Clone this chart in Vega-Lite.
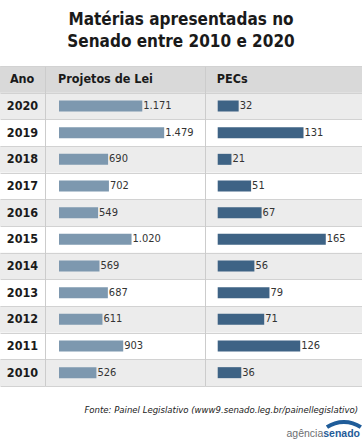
{
  "$schema": "https://vega.github.io/schema/vega-lite/v6.json",
  "padding": {"top": 11, "left": 0, "right": 0, "bottom": 0},
  "autosize": {"type": "pad"},
  "background": "white",
  "config": {
    "view": {"stroke": null},
    "font": "DejaVu Sans Condensed, Roboto, sans-serif",
    "locale": {"number": {"decimal": ",", "thousands": ".", "grouping": [3], "currency": ["R$ ", ""]}}
  },
  "datasets": {
    "rows": [
      {"ano": "2020", "pl": 1171, "pec": 32},
      {"ano": "2019", "pl": 1479, "pec": 131},
      {"ano": "2018", "pl": 690, "pec": 21},
      {"ano": "2017", "pl": 702, "pec": 51},
      {"ano": "2016", "pl": 549, "pec": 67},
      {"ano": "2015", "pl": 1020, "pec": 165},
      {"ano": "2014", "pl": 569, "pec": 56},
      {"ano": "2013", "pl": 687, "pec": 79},
      {"ano": "2012", "pl": 611, "pec": 71},
      {"ano": "2011", "pl": 903, "pec": 126},
      {"ano": "2010", "pl": 526, "pec": 36}
    ]
  },
  "title": {
    "text": ["Matérias apresentadas no", "Senado entre 2010 e 2020"],
    "font": "DejaVu Sans Condensed, Roboto, sans-serif",
    "fontSize": 17,
    "fontWeight": "bold",
    "lineHeight": 21.5,
    "color": "#1a1a1a",
    "anchor": "middle",
    "offset": 15.5
  },
  "spacing": 0,
  "vconcat": [
    {
      "spacing": 0,
      "hconcat": [
        {
          "width": 45,
          "height": 320,
          "data": {"name": "rows"},
          "encoding": {
            "y": {
              "field": "ano", "type": "ordinal",
              "scale": {"domain": ["Ano", "2020", "2019", "2018", "2017", "2016", "2015", "2014", "2013", "2012", "2011", "2010"], "paddingInner": 0, "paddingOuter": 0},
              "axis": {"title": null, "labels": false, "ticks": false, "domain": false, "grid": true, "gridColor": "#d2d2d2", "tickBand": "extent", "zindex": 1}
            }
          },
          "layer": [
            {"mark": {"type": "rect"}, "encoding": {"fill": {"condition": {"test": "toNumber(datum.ano) % 2 === 0", "value": "#ececec"}, "value": "#ffffff"}}},
            {"data": {"values": [{"ano": "Ano"}]}, "mark": {"type": "rect", "fill": "#d9d9d9"}},
            {
              "mark": {"type": "text", "fontWeight": "bold", "fontSize": 12.5, "color": "#1a1a1a", "align": "center", "baseline": "middle"},
              "encoding": {
                "x": {"datum": 0.5, "type": "quantitative", "scale": {"domain": [0, 1]}, "axis": null},
                "text": {"field": "ano"}
              }
            },
            {
              "data": {"values": [{"ano": "Ano", "t": "Ano"}]},
              "mark": {"type": "text", "fontWeight": "bold", "fontSize": 12.5, "color": "#1a1a1a", "align": "left", "baseline": "middle"},
              "encoding": {
                "x": {"datum": 0.22, "type": "quantitative"},
                "text": {"field": "t"}
              }
            }
          ]
        },
        {
          "width": 160,
          "height": 320,
          "data": {"name": "rows"},
          "encoding": {
            "y": {
              "field": "ano", "type": "ordinal",
              "scale": {"domain": ["Ano", "2020", "2019", "2018", "2017", "2016", "2015", "2014", "2013", "2012", "2011", "2010"], "paddingInner": 0, "paddingOuter": 0},
              "axis": {"title": null, "labels": false, "ticks": false, "domain": true, "domainColor": "#cccccc", "grid": true, "gridColor": "#d2d2d2", "tickBand": "extent", "zindex": 1}
            }
          },
          "layer": [
            {"mark": {"type": "rect"}, "encoding": {"fill": {"condition": {"test": "toNumber(datum.ano) % 2 === 0", "value": "#ececec"}, "value": "#ffffff"}}},
            {"data": {"values": [{"ano": "Ano"}]}, "mark": {"type": "rect", "fill": "#d9d9d9"}},
            {
              "mark": {"type": "bar", "height": 11, "color": "#7d98af"},
              "encoding": {
                "x": {"field": "pl", "type": "quantitative", "scale": {"domain": [-197, 2053], "nice": false, "zero": false}, "axis": null}
              }
            },
            {
              "mark": {"type": "text", "fontSize": 11, "color": "#333333", "align": "left", "baseline": "middle", "dx": 1},
              "encoding": {
                "x": {"field": "pl", "type": "quantitative"},
                "text": {"field": "pl", "type": "quantitative", "format": ",d"}
              }
            },
            {
              "data": {"values": [{"ano": "Ano", "t": "Projetos de Lei"}]},
              "mark": {"type": "text", "fontWeight": "bold", "fontSize": 12.5, "color": "#1a1a1a", "align": "left", "baseline": "middle", "dx": -1},
              "encoding": {
                "x": {"datum": 0, "type": "quantitative"},
                "text": {"field": "t"}
              }
            }
          ]
        },
        {
          "width": 157,
          "height": 320,
          "data": {"name": "rows"},
          "encoding": {
            "y": {
              "field": "ano", "type": "ordinal",
              "scale": {"domain": ["Ano", "2020", "2019", "2018", "2017", "2016", "2015", "2014", "2013", "2012", "2011", "2010"], "paddingInner": 0, "paddingOuter": 0},
              "axis": {"title": null, "labels": false, "ticks": false, "domain": true, "domainColor": "#cccccc", "grid": true, "gridColor": "#d2d2d2", "tickBand": "extent", "zindex": 1}
            }
          },
          "layer": [
            {"mark": {"type": "rect"}, "encoding": {"fill": {"condition": {"test": "toNumber(datum.ano) % 2 === 0", "value": "#ececec"}, "value": "#ffffff"}}},
            {"data": {"values": [{"ano": "Ano"}]}, "mark": {"type": "rect", "fill": "#d9d9d9"}},
            {
              "mark": {"type": "bar", "height": 11, "color": "#3e6385"},
              "encoding": {
                "x": {"field": "pec", "type": "quantitative", "scale": {"domain": [-19.4, 220.3], "nice": false, "zero": false}, "axis": null}
              }
            },
            {
              "mark": {"type": "text", "fontSize": 11, "color": "#333333", "align": "left", "baseline": "middle", "dx": 1},
              "encoding": {
                "x": {"field": "pec", "type": "quantitative"},
                "text": {"field": "pec", "type": "quantitative", "format": ",d"}
              }
            },
            {
              "data": {"values": [{"ano": "Ano", "t": "PECs"}]},
              "mark": {"type": "text", "fontWeight": "bold", "fontSize": 12.5, "color": "#1a1a1a", "align": "left", "baseline": "middle", "dx": -1},
              "encoding": {
                "x": {"datum": 0, "type": "quantitative"},
                "text": {"field": "t"}
              }
            }
          ]
        }
      ]
    },
    {
      "width": 362,
      "height": 62,
      "data": {"values": [{"fonte": "Fonte: Painel Legislativo (www9.senado.leg.br/painellegislativo)", "a": "agência", "s": "senado"}]},
      "layer": [
        {
          "mark": {"type": "text", "fontStyle": "italic", "fontSize": 9.5, "color": "#222222", "align": "right", "baseline": "middle"},
          "encoding": {
            "x": {"datum": 0.989, "type": "quantitative", "scale": {"domain": [0, 1]}, "axis": null},
            "y": {"datum": 0.37, "type": "quantitative", "scale": {"domain": [0, 1], "reverse": true}, "axis": null},
            "text": {"field": "fonte"}
          }
        },
        {
          "mark": {"type": "arc", "outerRadius": 32, "innerRadius": 28, "theta": 5.683, "theta2": 6.883, "color": "#1f5c99"},
          "encoding": {
            "x": {"datum": 0.95, "type": "quantitative"},
            "y": {"datum": 1.048, "type": "quantitative"}
          }
        },
        {
          "mark": {"type": "text", "font": "Liberation Sans", "fontSize": 10.5, "color": "#6d6e71", "align": "right", "baseline": "middle"},
          "encoding": {
            "x": {"datum": 0.893, "type": "quantitative"},
            "y": {"datum": 0.76, "type": "quantitative"},
            "text": {"field": "a"}
          }
        },
        {
          "mark": {"type": "text", "font": "Liberation Sans", "fontSize": 10.5, "fontWeight": "bold", "color": "#1f5c99", "align": "left", "baseline": "middle"},
          "encoding": {
            "x": {"datum": 0.893, "type": "quantitative"},
            "y": {"datum": 0.76, "type": "quantitative"},
            "text": {"field": "s"}
          }
        }
      ]
    }
  ]
}
